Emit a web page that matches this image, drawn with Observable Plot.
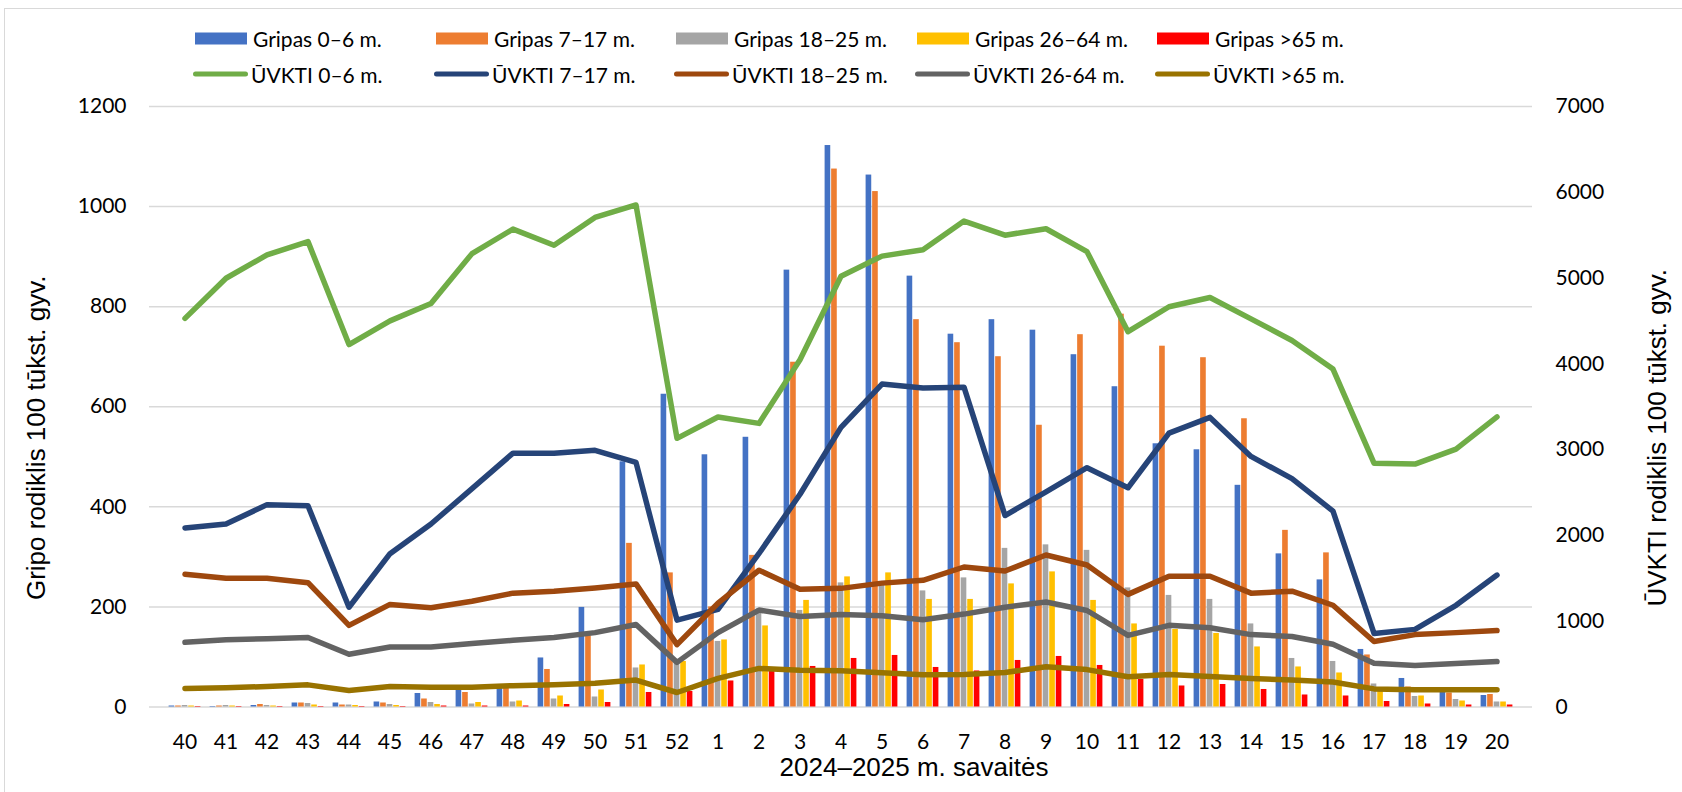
<!DOCTYPE html>
<html><head><meta charset="utf-8">
<script src="https://cdn.jsdelivr.net/npm/d3@7"></script>
<script src="https://cdn.jsdelivr.net/npm/@observablehq/plot@0.6"></script>
<style>
body{margin:0;background:#fff;width:1682px;height:792px;overflow:hidden;position:relative;font-family:Lato,"Noto Sans",sans-serif}
#frame{position:absolute;left:4px;top:8px;right:-10px;bottom:-10px;border-left:1.5px solid #d9d9d9;border-top:1.5px solid #d9d9d9;pointer-events:none}
#legend{position:relative;height:90px}
.item{position:absolute;display:flex;align-items:center;font-size:21px;color:#000;white-space:nowrap;transform:translateY(-50%)}
.sw{width:52px;height:12px;margin-right:6px}
.ln{width:55px;height:5px;border-radius:3px;margin-right:3px}
#chart{position:relative}
</style></head><body>
<div id="frame"></div>
<div id="legend"></div>
<div id="chart"></div>
<script>
// ---- data ----
const weeks = ["40","41","42","43","44","45","46","47","48","49","50","51","52","1","2","3","4","5","6","7","8","9","10","11","12","13","14","15","16","17","18","19","20"];

const fluNames = ["Gripas 0–6 m.","Gripas 7–17 m.","Gripas 18–25 m.","Gripas 26–64 m.","Gripas >65 m."];
const flu0_6   = [2,1,3,8,8,10,27,40,45,98,199,490,625,504,539,873,1122,1063,861,745,774,753,704,640,526,514,443,306,254,115,57,38,23];
const flu7_17  = [2,2,5,8,4,8,16,29,39,75,142,327,268,200,303,689,1075,1030,774,728,700,563,744,785,721,698,576,353,308,104,40,28,25];
const flu18_25 = [3,3,3,7,4,5,9,6,10,16,20,78,95,131,196,193,248,244,232,258,317,324,313,238,223,215,166,97,91,46,21,15,10];
const flu26_64 = [2,2,2,4,3,3,5,9,12,22,34,84,91,134,162,213,260,268,215,215,246,270,213,166,155,147,120,80,68,38,22,12,10];
const flu65    = [1,1,1,1,1,1,2,2,2,5,9,29,31,52,71,81,97,103,79,72,93,101,83,55,42,45,35,24,22,11,6,4,4];

const ilgNames = ["ŪVKTI 0–6 m.","ŪVKTI 7–17 m.","ŪVKTI 18–25 m.","ŪVKTI 26-64 m.","ŪVKTI >65 m."];
const ilg0_6   = [4530,4998,5270,5425,4225,4501,4703,5285,5571,5383,5707,5852,3132,3381,3306,4047,5022,5256,5331,5664,5500,5575,5308,4375,4666,4773,4525,4272,3939,2842,2832,3006,3381];
const ilg7_17  = [2087,2133,2359,2345,1163,1787,2133,2546,2959,2959,2992,2851,1013,1139,1790,2480,3259,3765,3718,3728,2232,2509,2790,2556,3193,3376,2921,2663,2284,858,905,1186,1538];
const ilg18_25 = [1547,1500,1500,1449,952,1196,1158,1233,1327,1350,1388,1435,727,1210,1594,1374,1383,1444,1477,1632,1585,1772,1655,1313,1524,1524,1327,1350,1186,764,844,867,891];
const ilg26_64 = [755,783,797,811,614,699,699,741,778,811,867,961,520,867,1130,1055,1078,1064,1018,1083,1163,1224,1125,835,952,924,844,821,731,511,483,506,530];
const ilg65    = [216,225,239,258,192,239,230,230,249,258,277,314,169,333,450,427,422,399,375,380,403,469,436,352,380,356,333,314,291,211,202,202,202];

const leftTicks  = [0,200,400,600,800,1000,1200];
const rightTicks = [0,1000,2000,3000,4000,5000,6000,7000];

const fluColors = ["#4472C4","#ED7D31","#A5A5A5","#FFC000","#FF0000"];
const ilgColors = ["#70AD47","#264478","#9E480E","#636363","#997300"];

const leftTitle  = "Gripo rodiklis 100 tūkst. gyv.";
const rightTitle = "ŪVKTI rodiklis 100 tūkst. gyv.";
const xTitle     = "2024–2025 m. savaitės";

// ---- legend ----
const legend = document.getElementById("legend");
const legX = [195,436,676,917,1157];
fluNames.forEach((n,i)=>{
  const d=document.createElement("div");d.className="item";d.style.left=legX[i]+"px";d.style.top="38px";
  d.innerHTML=`<span class="sw" style="background:${fluColors[i]}"></span><span>${n}</span>`;legend.appendChild(d);
});
ilgNames.forEach((n,i)=>{
  const d=document.createElement("div");d.className="item";d.style.left=(legX[i]-2)+"px";d.style.top="74px";
  d.innerHTML=`<span class="ln" style="background:${ilgColors[i]}"></span><span>${n}</span>`;legend.appendChild(d);
});

// ---- chart ----
const W=1682, H=702, mL=149, mR=150, mT=16, mB=85.5;
const K = 1200/7000;
const bw = (W-mL-mR)/weeks.length;
const gap = 4.6, barW = (bw-2*gap)/5;

const fluSeries = [flu0_6,flu7_17,flu18_25,flu26_64,flu65];
const ilgSeries = [ilg0_6,ilg7_17,ilg18_25,ilg26_64,ilg65];

const barMarks = fluSeries.map((vals,i)=>Plot.barY(
  weeks.map((w,j)=>({week:w,value:vals[j]})),
  {x:"week",y:"value",fill:fluColors[i],insetLeft:gap+i*barW,insetRight:bw-gap-(i+1)*barW}));
const lineMarks = ilgSeries.map((vals,i)=>Plot.lineY(
  weeks.map((w,j)=>({week:w,value:vals[j]})),
  {x:"week",y:d=>d.value*K,stroke:ilgColors[i],strokeWidth:5.5,strokeLinejoin:"round",strokeLinecap:"round"}));

const titleFont = "'Liberation Sans', Arial, sans-serif";
const chart = Plot.plot({
  width:W,height:H,marginLeft:mL,marginRight:mR,marginTop:mT,marginBottom:mB,
  style:{fontFamily:"Lato, 'Noto Sans', sans-serif",fontSize:"21px",color:"#000",background:"transparent"},
  x:{type:"band",domain:weeks,padding:0,axis:null},
  y:{domain:[0,1200],axis:null},
  marks:[
    Plot.gridY(leftTicks,{stroke:"#d9d9d9",strokeOpacity:1,strokeWidth:1.5}),
    ...barMarks,
    ...lineMarks,
    Plot.axisY(leftTicks,{anchor:"left",tickSize:0,tickPadding:23,fontSize:21,label:null,tickFormat:d=>String(d)}),
    Plot.axisY(rightTicks.map(v=>v*K),{anchor:"right",tickSize:0,tickPadding:23,fontSize:21,label:null,tickFormat:d=>String(Math.round(d/K))}),
    Plot.axisX({tickSize:0,tickPadding:27,fontSize:21,label:null}),
    Plot.text([leftTitle],{frameAnchor:"left",textAnchor:"middle",text:d=>d,rotate:-90,dx:-113,dy:31,fontSize:26,fontFamily:titleFont,fill:"#000"}),
    Plot.text([rightTitle],{frameAnchor:"right",textAnchor:"middle",text:d=>d,rotate:-90,dx:125,dy:31,fontSize:26,fontFamily:titleFont,fill:"#000"}),
    Plot.text([xTitle],{frameAnchor:"bottom",text:d=>d,dx:73,dy:69,fontSize:26,fontFamily:titleFont,fill:"#000"})
  ]
});
document.getElementById("chart").appendChild(chart);
</script>
</body></html>
